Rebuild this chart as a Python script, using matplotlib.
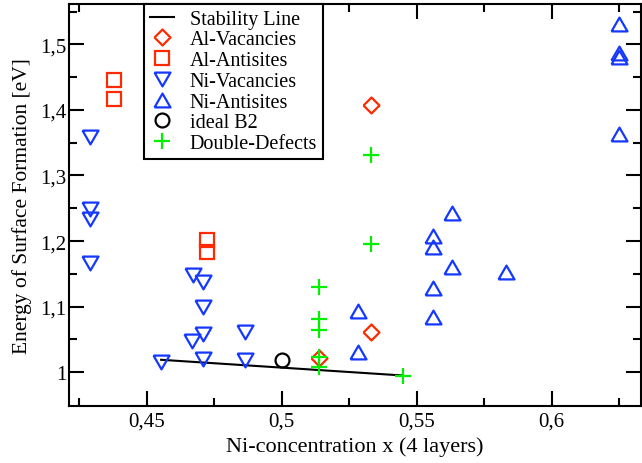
import matplotlib
matplotlib.use("Agg")
import matplotlib.pyplot as plt
from matplotlib.ticker import FixedLocator, FuncFormatter

# values
stab_x = [0.4553, 0.545]
stab_y = [1.019, 0.995]

alvac_x = [0.5331, 0.5139, 0.5331]
alvac_y = [1.4075, 1.021, 1.062]

alanti_x = [0.438, 0.438, 0.4722, 0.4722]
alanti_y = [1.446, 1.417, 1.202, 1.183]

nivac_x = [0.429, 0.429, 0.429, 0.429, 0.4553, 0.4673, 0.471, 0.471,
           0.471, 0.4669, 0.471, 0.4862, 0.4862]
nivac_y = [1.359, 1.249, 1.233, 1.167, 1.016, 1.148, 1.137, 1.099,
           1.058, 1.047, 1.020, 1.061, 1.018]

nianti_x = [0.5281, 0.5281, 0.5562, 0.5562, 0.5562, 0.5562, 0.5632, 0.5632,
            0.5831, 0.625, 0.625, 0.625, 0.625]
nianti_y = [1.093, 1.0305, 1.208, 1.1905, 1.1285, 1.0838, 1.243, 1.160,
            1.153, 1.531, 1.486, 1.481, 1.364]

b2_x = [0.5]
b2_y = [1.018]

dd_x = [0.5331, 0.5331, 0.5139, 0.5139, 0.5139, 0.5139, 0.5139, 0.545]
dd_y = [1.331, 1.1956, 1.1296, 1.0813, 1.065, 1.023, 1.0076, 0.994]

red = "#ff2a00"
blue = "#1438ff"
green = "#00f000"

# grace-like markers: equilateral triangles, diamond
tri_up = [(-1, -0.866), (1, -0.866), (0, 0.866), (-1, -0.866)]
tri_dn = [(-1, 0.866), (1, 0.866), (0, -0.866), (-1, 0.866)]
diamond = [(-1, 0), (0, 1), (1, 0), (0, -1), (-1, 0)]

plt.rcParams["font.family"] = ["Liberation Serif", "DejaVu Serif"]

fig = plt.figure(figsize=(6.42, 4.64), dpi=100)
ax = fig.add_axes([0.108, 0.1235, 0.89, 0.8665])

mew = 1.6
ax.plot(stab_x, stab_y, color="black", lw=1.5, label="Stability Line", zorder=2)
ax.plot(alvac_x, alvac_y, ls="none", marker=diamond, ms=11.5, mfc="none",
        mec=red, mew=mew, label="Al-Vacancies", zorder=3)
ax.plot(alanti_x, alanti_y, ls="none", marker="s", ms=9.5, mfc="none",
        mec=red, mew=mew, label="Al-Antisites", zorder=3)
ax.plot(nivac_x, nivac_y, ls="none", marker=tri_dn, ms=11.5, mfc="none",
        mec=blue, mew=mew, label="Ni-Vacancies", zorder=3)
ax.plot(nianti_x, nianti_y, ls="none", marker=tri_up, ms=11.5, mfc="none",
        mec=blue, mew=mew, label="Ni-Antisites", zorder=3)
ax.plot(b2_x, b2_y, ls="none", marker="o", ms=10, mfc="none",
        mec="black", mew=mew, label="ideal B2", zorder=3)
ax.plot(dd_x, dd_y, ls="none", marker="+", ms=11, mec=green, mew=mew,
        label="Double-Defects", zorder=4)

ax.set_xlim(0.4213, 0.633)
ax.set_ylim(0.949, 1.562)

ax.xaxis.set_major_locator(FixedLocator([0.45, 0.5, 0.55, 0.6]))
ax.xaxis.set_minor_locator(FixedLocator([0.425, 0.475, 0.525, 0.575, 0.625]))
ax.yaxis.set_major_locator(FixedLocator([1.0, 1.1, 1.2, 1.3, 1.4, 1.5]))
ax.yaxis.set_minor_locator(FixedLocator([1.05, 1.15, 1.25, 1.35, 1.45, 1.55]))
comma = FuncFormatter(lambda v, p: f"{v:.10g}".replace(".", ","))
ax.xaxis.set_major_formatter(comma)
ax.yaxis.set_major_formatter(comma)

ax.tick_params(which="both", direction="in", top=True, right=True, width=1.5,
               labelsize=15, colors="black")
ax.tick_params(which="major", length=11)
ax.tick_params(axis="x", which="major", pad=4)
ax.tick_params(axis="y", which="major", pad=2)
ax.tick_params(which="minor", length=5.5)
for s in ax.spines.values():
    s.set_linewidth(1.5)

ax.set_xlabel("Ni-concentration x (4 layers)", fontsize=16, labelpad=4)
ax.set_ylabel("Energy of Surface Formation [eV]", fontsize=15.5, labelpad=6)

leg = ax.legend(loc="upper left", bbox_to_anchor=(0.13, 1.0), fontsize=14.5,
                frameon=True, fancybox=False, shadow=False, framealpha=1,
                edgecolor="black", handlelength=1.2, handletextpad=0.8,
                labelspacing=0.08, borderpad=0.3, borderaxespad=0)
leg.get_frame().set_linewidth(1.5)

fig.savefig("out.png", dpi=100)
